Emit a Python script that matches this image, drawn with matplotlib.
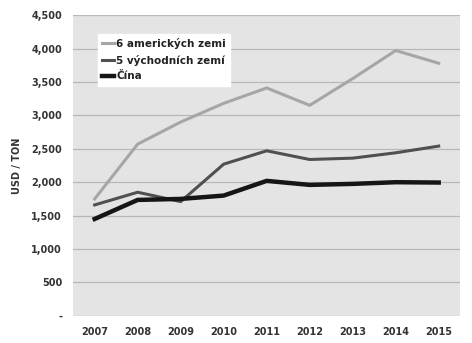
import matplotlib.pyplot as plt

years = ['2007', '2008', '2009', '2010', '2011', '2012', '2013', '2014', '2015']
americke = [1750, 2570, 2900, 3180, 3410, 3150, 3550, 3970, 3780]
vychodni = [1660, 1850, 1710, 2270, 2470, 2340, 2360, 2440, 2540]
cina = [1450, 1735, 1750, 1800, 2020, 1960, 1975, 2000, 1995]
yticks = [0, 500, 1000, 1500, 2000, 2500, 3000, 3500, 4000, 4500]
ytick_labels = ['-', '500', '1,000', '1,500', '2,000', '2,500', '3,000', '3,500', '4,000', '4,500']

fig = plt.figure(figsize=(4.72, 3.43), dpi=100)
ax = fig.add_axes([0.155, 0.079, 0.82, 0.877])
ax.set_facecolor('#e4e4e4')

x = range(len(years))
ax.plot(x, americke, color='#a6a6a6', lw=2.2, label='6 amerických zemi')
ax.plot(x, vychodni, color='#505050', lw=2.2, label='5 východních zemí')
ax.plot(x, cina, color='#151515', lw=3.2, label='Čína')

ax.set_xlim(-0.5, len(years) - 0.5)
ax.set_ylim(0, 4500)
ax.set_xticks(list(x))
ax.set_xticklabels(years, fontsize=7, fontweight='bold', color='#333333')
ax.set_yticks(yticks)
ax.set_yticklabels(ytick_labels, fontsize=7, fontweight='bold', color='#333333')
ax.tick_params(length=0, pad=8)
ax.grid(axis='y', color='#b8b8b8', lw=0.9)
ax.set_axisbelow(True)
for s in ax.spines.values():
    s.set_visible(False)

ax.set_ylabel('USD / TON', fontsize=7, fontweight='bold', color='#333333', labelpad=7)

leg = ax.legend(loc='upper left', bbox_to_anchor=(0.05, 0.955), fontsize=7.5,
                frameon=True, fancybox=False, handlelength=1.2, handletextpad=0.2,
                labelspacing=0.55, borderpad=0.4)
leg.get_frame().set_facecolor('white')
leg.get_frame().set_edgecolor('white')
leg.get_frame().set_alpha(1)
for t in leg.get_texts():
    t.set_fontweight('bold')
    t.set_color('#222222')

fig.savefig('out.png', dpi=100)
